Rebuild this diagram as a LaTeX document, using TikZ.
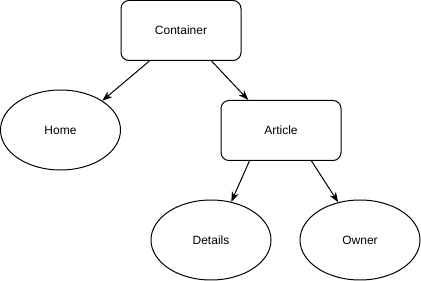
\documentclass[tikz,border=0pt]{standalone}
\usepackage{fontspec}
\setmainfont{Liberation Sans}
\usetikzlibrary{shapes.geometric,arrows.meta}
\begin{document}
\begin{tikzpicture}[x=0.75pt,y=-0.75pt,
  box/.style={draw,line width=0.75pt,rounded corners=6pt,minimum width=90pt,minimum height=45pt,inner sep=0pt,font=\fontsize{9pt}{11pt}\selectfont},
  oval/.style={draw,ellipse,line width=0.75pt,minimum width=90pt,minimum height=60pt,inner sep=0pt,font=\fontsize{9pt}{11pt}\selectfont},
  link/.style={line width=0.75pt,-{Stealth[length=7.5pt,width=5.5pt,inset=2.2pt]}}]
\useasboundingbox (0,0) rectangle (421,281);
\node[box] (c) at (181,30.5) {Container};
\node[oval] (h) at (60.5,130) {Home};
\node[box] (a) at (281,130.5) {Article};
\node[oval] (d) at (211,240) {Details};
\node[oval] (o) at (360,240) {Owner};
\draw[link] (c.224) -- (h.35);
\draw[link] (c.315) -- (a.137);
\draw[link] (a.224) -- (d.62);
\draw[link] (a.315) -- (o.120);
\end{tikzpicture}
\end{document}
